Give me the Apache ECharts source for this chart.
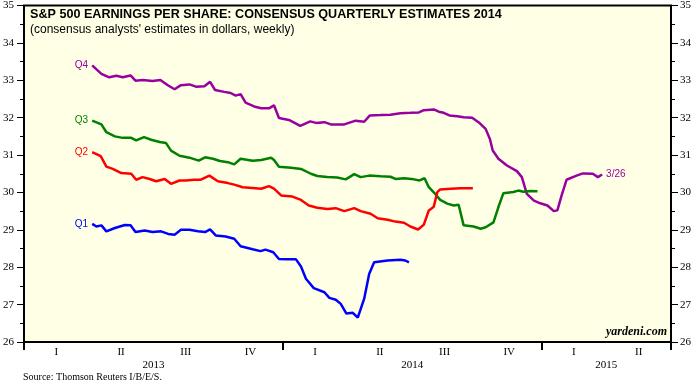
<!DOCTYPE html>
<html>
<head>
<meta charset="utf-8">
<script src="https://cdn.jsdelivr.net/npm/echarts@6/dist/echarts.min.js"></script>
<style>
html,body{margin:0;padding:0;background:#fff;}
#chart{width:700px;height:384px;}
</style>
</head>
<body>
<div id="chart"></div>
<script>
// ---- data ----
const quarterLabels = ['I','II','III','IV','I','II','III','IV','I','II'];
const yearLabels = ['', '', '2013', '', '', '', '2014', '', '', '2015', ''];
const yTicksMin = 26;
const yTicksMax = 35;

const q4Dates = ['2013-04-07','2013-04-20','2013-05-01','2013-05-11','2013-05-20','2013-05-31','2013-06-07','2013-06-17','2013-07-01','2013-07-12','2013-07-23','2013-08-01','2013-08-10','2013-08-22','2013-08-31','2013-09-12','2013-09-20','2013-09-27','2013-10-10','2013-10-19','2013-10-26','2013-11-02','2013-11-09','2013-11-21','2013-12-01','2013-12-12','2013-12-19','2013-12-26','2014-01-09','2014-01-25','2014-02-08','2014-02-16','2014-02-28','2014-03-09','2014-03-28','2014-04-13','2014-04-25','2014-05-03','2014-05-18','2014-06-01','2014-06-15','2014-06-29','2014-07-11','2014-07-18','2014-08-01','2014-08-08','2014-08-15','2014-08-23','2014-09-03','2014-09-12','2014-09-24','2014-10-03','2014-10-13','2014-10-19','2014-10-23','2014-10-31','2014-11-12','2014-11-26','2014-12-03','2014-12-10','2014-12-20','2014-12-29','2015-01-08','2015-01-17','2015-01-22','2015-01-28','2015-02-04','2015-02-18','2015-02-27','2015-03-13','2015-03-20','2015-03-26'];
const q4Values = [33.40,33.17,33.08,33.12,33.08,33.13,32.99,33.01,32.98,33.01,32.86,32.76,32.87,32.89,32.83,32.84,32.96,32.74,32.69,32.66,32.59,32.63,32.40,32.30,32.25,32.25,32.33,31.99,31.94,31.78,31.90,31.86,31.88,31.82,31.82,31.92,31.89,32.06,32.07,32.08,32.12,32.13,32.14,32.20,32.22,32.16,32.13,32.06,32.04,32.01,32.00,31.88,31.70,31.43,31.12,30.90,30.72,30.57,30.41,29.96,29.78,29.71,29.65,29.50,29.52,29.92,30.34,30.45,30.51,30.50,30.41,30.48];

const q3Dates = ['2013-04-07','2013-04-20','2013-04-27','2013-05-09','2013-05-20','2013-06-01','2013-06-08','2013-06-19','2013-06-29','2013-07-11','2013-07-20','2013-07-27','2013-08-08','2013-08-22','2013-09-04','2013-09-13','2013-09-24','2013-10-04','2013-10-15','2013-10-24','2013-11-02','2013-11-19','2013-12-01','2013-12-15','2013-12-19','2013-12-26','2014-01-12','2014-01-26','2014-02-09','2014-02-18','2014-03-04','2014-03-18','2014-03-30','2014-04-11','2014-04-20','2014-05-02','2014-05-18','2014-06-01','2014-06-08','2014-06-20','2014-07-04','2014-07-12','2014-07-19','2014-07-25','2014-08-03','2014-08-10','2014-08-20','2014-08-29','2014-09-05','2014-09-12','2014-09-26','2014-10-06','2014-10-13','2014-10-24','2014-10-31','2014-11-07','2014-11-21','2014-11-28','2014-12-05','2014-12-15','2014-12-25'];
const q3Values = [31.92,31.82,31.61,31.50,31.46,31.46,31.39,31.48,31.41,31.35,31.32,31.12,30.98,30.93,30.85,30.94,30.90,30.84,30.81,30.75,30.90,30.85,30.87,30.93,30.87,30.69,30.66,30.63,30.50,30.44,30.41,30.40,30.35,30.49,30.41,30.45,30.43,30.42,30.36,30.38,30.35,30.32,30.38,30.14,29.96,29.80,29.70,29.65,29.67,29.12,29.09,29.03,29.07,29.20,29.61,29.98,30.01,30.05,30.02,30.04,30.03];

const q2Dates = ['2013-04-07','2013-04-19','2013-04-27','2013-05-06','2013-05-18','2013-06-01','2013-06-08','2013-06-17','2013-06-27','2013-07-06','2013-07-18','2013-07-27','2013-08-08','2013-08-17','2013-08-29','2013-09-07','2013-09-19','2013-10-01','2013-10-15','2013-10-24','2013-11-05','2013-11-19','2013-12-01','2013-12-12','2013-12-19','2013-12-29','2014-01-14','2014-01-26','2014-02-06','2014-02-18','2014-03-04','2014-03-16','2014-03-28','2014-04-11','2014-04-20','2014-05-04','2014-05-14','2014-05-28','2014-06-08','2014-06-20','2014-06-29','2014-07-10','2014-07-18','2014-07-25','2014-08-01','2014-08-06','2014-08-10','2014-08-25','2014-09-08','2014-09-25'];
const q2Values = [31.08,30.97,30.69,30.63,30.52,30.50,30.34,30.41,30.36,30.30,30.36,30.23,30.32,30.32,30.34,30.34,30.45,30.30,30.25,30.21,30.14,30.12,30.10,30.17,30.10,29.92,29.89,29.80,29.65,29.59,29.56,29.58,29.50,29.58,29.50,29.43,29.31,29.27,29.22,29.19,29.09,29.01,29.14,29.52,29.62,30.01,30.08,30.10,30.11,30.11];

const q1Dates = ['2013-04-07','2013-04-13','2013-04-20','2013-04-27','2013-05-09','2013-05-23','2013-05-31','2013-06-07','2013-06-20','2013-07-01','2013-07-13','2013-07-23','2013-08-01','2013-08-10','2013-08-22','2013-09-03','2013-09-13','2013-09-20','2013-09-28','2013-10-12','2013-10-24','2013-11-02','2013-11-19','2013-11-30','2013-12-07','2013-12-18','2013-12-26','2014-01-07','2014-01-19','2014-01-26','2014-02-02','2014-02-13','2014-02-28','2014-03-07','2014-03-16','2014-03-23','2014-03-31','2014-04-09','2014-04-16','2014-04-25','2014-05-02','2014-05-09','2014-05-28','2014-06-15','2014-06-22','2014-06-27'];
const q1Values = [29.16,29.09,29.12,28.96,29.05,29.13,29.12,28.94,28.98,28.94,28.96,28.89,28.87,29.00,29.00,28.96,28.94,29.01,28.85,28.82,28.76,28.56,28.48,28.43,28.47,28.40,28.22,28.21,28.21,28.02,27.69,27.44,27.33,27.18,27.13,27.02,26.76,26.78,26.65,27.16,27.82,28.13,28.18,28.20,28.18,28.13];

const seriesNames = ['Q4','Q3','Q2','Q1'];
const seriesColors = ['#9900A0','#008000','#FF0000','#0000FF'];
const lastLabel = '3/26';

// ---- chart ----
const allDates = [q4Dates, q3Dates, q2Dates, q1Dates];
const allValues = [q4Values, q3Values, q2Values, q1Values];
const SERIF = '"Liberation Serif", "Times New Roman", serif';
const SANS = '"Liberation Sans", Arial, sans-serif';

const chart = echarts.init(document.getElementById('chart'), null, {renderer: 'canvas'});

const series = seriesNames.map((name, k) => {
  const d = allDates[k].map((t, i) => [t, allValues[k][i]]);
  const s = {
    name: name,
    type: 'line',
    xAxisIndex: 0,
    yAxisIndex: 0,
    data: d,
    showSymbol: false,
    symbol: 'none',
    lineStyle: {color: seriesColors[k], width: 2.5},
    itemStyle: {color: seriesColors[k]},
    z: 5,
    markPoint: {
      symbol: 'circle',
      symbolSize: 0,
      silent: true,
      data: [{coord: d[0], value: name}],
      label: {show: true, position: 'left', distance: 4, formatter: name,
        color: seriesColors[k], fontSize: 10, fontFamily: SANS}
    }
  };
  if (k === 0) {
    s.endLabel = {show: true, formatter: lastLabel, color: seriesColors[k],
      fontSize: 10, fontFamily: SANS, distance: 4};
  }
  return s;
});

const yAxisCommon = {
  type: 'value', min: yTicksMin, max: yTicksMax, interval: 1,
  axisLine: {show: false},
  axisTick: {show: true, length: 7, lineStyle: {color: '#000', width: 1}},
  minorTick: {show: true, splitNumber: 2, length: 4, lineStyle: {color: '#000', width: 1}},
  splitLine: {show: false},
  minorSplitLine: {show: false},
  axisLabel: {color: '#000', fontSize: 11, fontFamily: SERIF}
};

const option = {
  animation: false,
  backgroundColor: '#ffffff',
  title: [
    {text: 'S&P 500 EARNINGS PER SHARE: CONSENSUS QUARTERLY ESTIMATES 2014', left: 30, top: 8, padding: 0,
     textStyle: {fontSize: 12.6, fontWeight: 'bold', fontFamily: SANS, color: '#000'}},
    {text: "(consensus analysts' estimates in dollars, weekly)", left: 30, top: 24, padding: 0,
     textStyle: {fontSize: 12, fontWeight: 'normal', fontFamily: SANS, color: '#000'}},
    {text: 'Source: Thomson Reuters I/B/E/S.', left: 23, top: 372, padding: 0,
     textStyle: {fontSize: 10, fontWeight: 'normal', fontFamily: SERIF, color: '#000'}},
    {text: 'yardeni.com', right: 33, top: 326, padding: 0,
     textStyle: {fontSize: 12, fontWeight: 'bold', fontStyle: 'italic', fontFamily: SERIF, color: '#000'}}
  ],
  grid: {left: 23, top: 5, width: 648, height: 337, show: true,
    backgroundColor: '#FFFFE6', borderColor: '#000', borderWidth: 2, containLabel: false},
  xAxis: [
    {type: 'time', min: '2013-01-01', max: '2015-07-01', position: 'bottom',
     axisLine: {show: false}, axisTick: {show: false}, axisLabel: {show: false}, splitLine: {show: false}},
    {type: 'category', data: quarterLabels.map((q, i) => String(i)), position: 'bottom', boundaryGap: true,
     axisLine: {show: false}, axisTick: {show: false}, splitLine: {show: false},
     axisLabel: {interval: 0, margin: 5, formatter: (v, i) => quarterLabels[i], color: '#000', fontSize: 11, fontFamily: SERIF}},
    {type: 'category', data: yearLabels.map((y, i) => String(i)), position: 'bottom', boundaryGap: false,
     axisLine: {show: false}, splitLine: {show: false},
     axisTick: {show: true, length: 8, interval: (i) => i === 0 || i === 4 || i === 8 || i === 10,
       lineStyle: {color: '#000', width: 2}},
     axisLabel: {interval: 0, margin: 18, formatter: (v, i) => yearLabels[i], color: '#000', fontSize: 11, fontFamily: SERIF}}
  ],
  yAxis: [
    Object.assign({}, yAxisCommon, {position: 'left', axisLabel: Object.assign({}, yAxisCommon.axisLabel, {margin: 10})}),
    Object.assign({}, yAxisCommon, {position: 'right', axisLabel: Object.assign({}, yAxisCommon.axisLabel, {margin: 9})})
  ],
  series: series
};
chart.setOption(option);
</script>
</body>
</html>
